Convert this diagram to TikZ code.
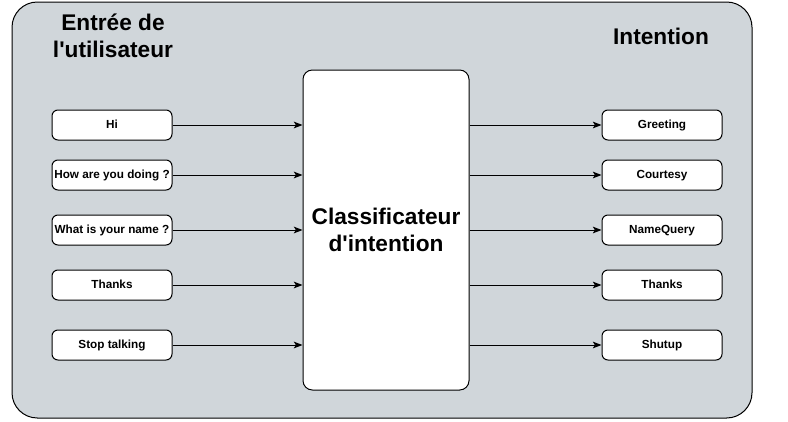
\documentclass[tikz,border=0pt]{standalone}
\usepackage{fontspec}
\setmainfont{Liberation Sans}
\usetikzlibrary{positioning,arrows.meta}
\definecolor{panelgray}{HTML}{D0D6DA}
\tikzset{
  smallbox/.style={draw=black, fill=white, line width=0.75pt, rounded corners=4.5pt,
    minimum width=90pt, minimum height=22.5pt, inner sep=1pt,
    text height=7pt, text depth=1.2pt,
    font=\fontsize{8.8}{10}\selectfont\bfseries},
  bigbox/.style={draw=black, fill=white, line width=0.75pt, rounded corners=7pt,
    minimum width=124.5pt, minimum height=240pt, align=center,
    font=\fontsize{17}{20.5}\selectfont\bfseries},
  title/.style={align=center, font=\fontsize{17}{20.5}\selectfont\bfseries},
  flow/.style={line width=0.75pt, -{Stealth[length=6.5pt,width=5pt,inset=1.5pt]}}
}
\begin{document}
\begin{tikzpicture}[x=0.75pt,y=-0.75pt]
\useasboundingbox (0,0) rectangle (788,421);
% panel
\draw[fill=panelgray, line width=0.75pt, rounded corners=19pt] (12,2) rectangle (752,418);
\node[title] (intitle) at (113,36) {Entrée de\\l\textquotesingle utilisateur};
\node[title] (outtitle) at (661,36) {Intention};
% classifier
\node[bigbox] (cls) at (386,230) {Classificateur\\d\textquotesingle intention};
% inputs and intents
\foreach \i/\y/\intxt/\outtxt in {1/125/Hi/Greeting, 2/175/How are you doing ?/Courtesy,
    3/230/What is your name ?/NameQuery, 4/285/Thanks/Thanks, 5/345/Stop talking/Shutup}
{
  \node[smallbox] (in\i) at (112,\y) {\intxt};
  \node[smallbox] (out\i) at (662,\y) {\outtxt};
  \draw[flow] (in\i) -- (in\i -| cls.west);
  \draw[flow] (cls.east |- out\i) -- (out\i);
}
\end{tikzpicture}
\end{document}
